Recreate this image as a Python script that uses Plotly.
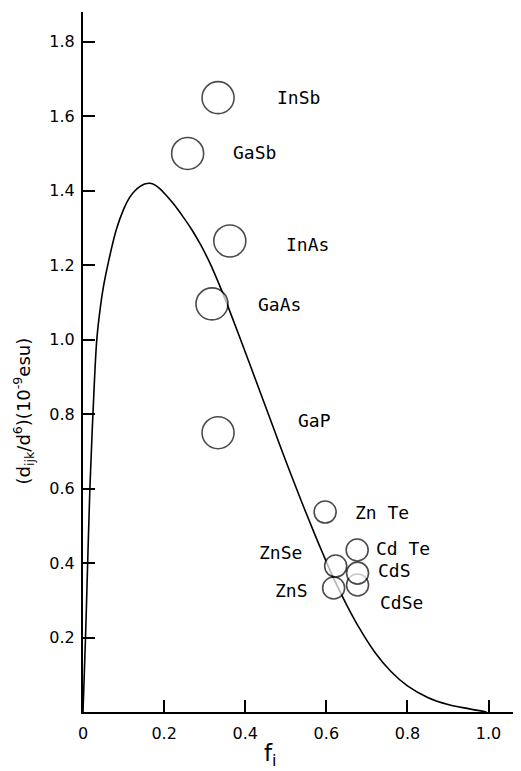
import plotly.graph_objects as go

# ---- data ----
compounds = ["InSb", "GaSb", "InAs", "GaAs", "GaP",
             "ZnSe", "ZnS", "ZnTe", "CdTe", "CdSe", "CdS"]
labels = ["InSb", "GaSb", "InAs", "GaAs", "GaP",
          "ZnSe", "ZnS", "Zn Te", "Cd Te", "CdSe", "CdS"]
f_i = [0.333, 0.258, 0.362, 0.318, 0.333,
       0.623, 0.618, 0.597, 0.676, 0.677, 0.677]
d_norm = [1.65, 1.50, 1.265, 1.096, 0.75,
          0.392, 0.333, 0.537, 0.435, 0.341, 0.373]
group = ["III-V"] * 5 + ["II-VI"] * 6

curve_f = [0.0, 0.0062, 0.0115, 0.017, 0.0245, 0.034, 0.042, 0.050, 0.062, 0.082,
           0.100, 0.115, 0.128, 0.140, 0.152, 0.165, 0.178, 0.190, 0.204, 0.225,
           0.246, 0.268, 0.290, 0.315, 0.337, 0.360, 0.400, 0.440, 0.485, 0.510,
           0.540, 0.570, 0.590, 0.620, 0.650, 0.680, 0.720, 0.760, 0.800, 0.850,
           0.900, 0.950, 0.995]
curve_d = [0.0, 0.20, 0.40, 0.60, 0.80, 1.00, 1.08, 1.14, 1.205, 1.295,
           1.350, 1.382, 1.400, 1.411, 1.418, 1.420, 1.415, 1.405, 1.389, 1.362,
           1.331, 1.296, 1.255, 1.201, 1.145, 1.082, 0.967, 0.850, 0.718, 0.646,
           0.562, 0.481, 0.429, 0.354, 0.288, 0.228, 0.160, 0.108, 0.070, 0.039,
           0.020, 0.009, 0.0]

x_ticks = [0, 0.2, 0.4, 0.6, 0.8, 1.0]
x_ticktext = ["0", "0.2", "0.4", "0.6", "0.8", "1.0"]
y_ticks = [0.2, 0.4, 0.6, 0.8, 1.0, 1.2, 1.4, 1.6, 1.8]
y_ticktext = ["0.2", "0.4", "0.6", "0.8", "1.0", "1.2", "1.4", "1.6", "1.8"]

# ---- styling (label offsets in pixels, marker sizes) ----
label_offsets = {
    "InSb": (80, 0), "GaSb": (67, 1), "InAs": (78, -4), "GaAs": (68, -1),
    "GaP": (96, 12), "ZnSe": (-55, 14), "ZnS": (-42, -2), "ZnTe": (57, 0),
    "CdTe": (46, 2), "CdSe": (44, -17), "CdS": (37, 3),
}
marker_size = {"III-V": 32, "II-VI": 22}

FONT = "DejaVu Sans"
MONO = "DejaVu Sans Mono"

fig = go.Figure()
fig.add_trace(go.Scatter(
    x=curve_f, y=curve_d, mode="lines",
    line=dict(color="black", width=1.6, shape="spline", smoothing=1.0),
    hoverinfo="skip", showlegend=False))

fig.add_trace(go.Scatter(
    x=f_i, y=d_norm, mode="markers",
    marker=dict(size=[marker_size[g] for g in group], color="white",
                line=dict(color="black", width=1.6)),
    text=compounds, showlegend=False))

for name, lab, x, y in zip(compounds, labels, f_i, d_norm):
    dx, dy = label_offsets[name]
    fig.add_annotation(x=x, y=y, text=lab, showarrow=False,
                       xshift=dx, yshift=dy, xanchor="center", yanchor="middle",
                       font=dict(family=MONO, size=18, color="black"))

# axis titles
fig.add_annotation(xref="paper", yref="paper", x=-0.136, y=0.43,
                   xanchor="center", yanchor="middle",
                   text="(d<sub>ijk</sub>/d<sup>6</sup>)(10<sup>-9</sup>esu)",
                   textangle=-90, showarrow=False,
                   font=dict(family=FONT, size=18, color="black"))
fig.add_annotation(xref="paper", yref="paper", x=0.427, y=-0.062,
                   xanchor="center", yanchor="middle",
                   text="f<sub>i</sub>", showarrow=False,
                   font=dict(family=FONT, size=23, color="black"))

axis_common = dict(showline=True, linecolor="black", linewidth=2,
                   ticks="inside", ticklen=12, tickwidth=1.6, tickcolor="black",
                   showgrid=False, zeroline=False, automargin=False,
                   tickfont=dict(family=FONT, size=16, color="black"))

# the page body adds an 8px offset, so the figure is sized to fit the window
fig.update_layout(
    width=513, height=763,
    margin=dict(l=75, r=0, t=4, b=59),
    plot_bgcolor="white", paper_bgcolor="white",
    xaxis=dict(range=[0, 1.08], tickvals=x_ticks, ticktext=x_ticktext,
               ticklabelstandoff=6, **axis_common),
    yaxis=dict(range=[0, 1.88], tickvals=y_ticks, ticktext=y_ticktext,
               ticklabelstandoff=3, **axis_common),
)

fig.write_html("out.html")
